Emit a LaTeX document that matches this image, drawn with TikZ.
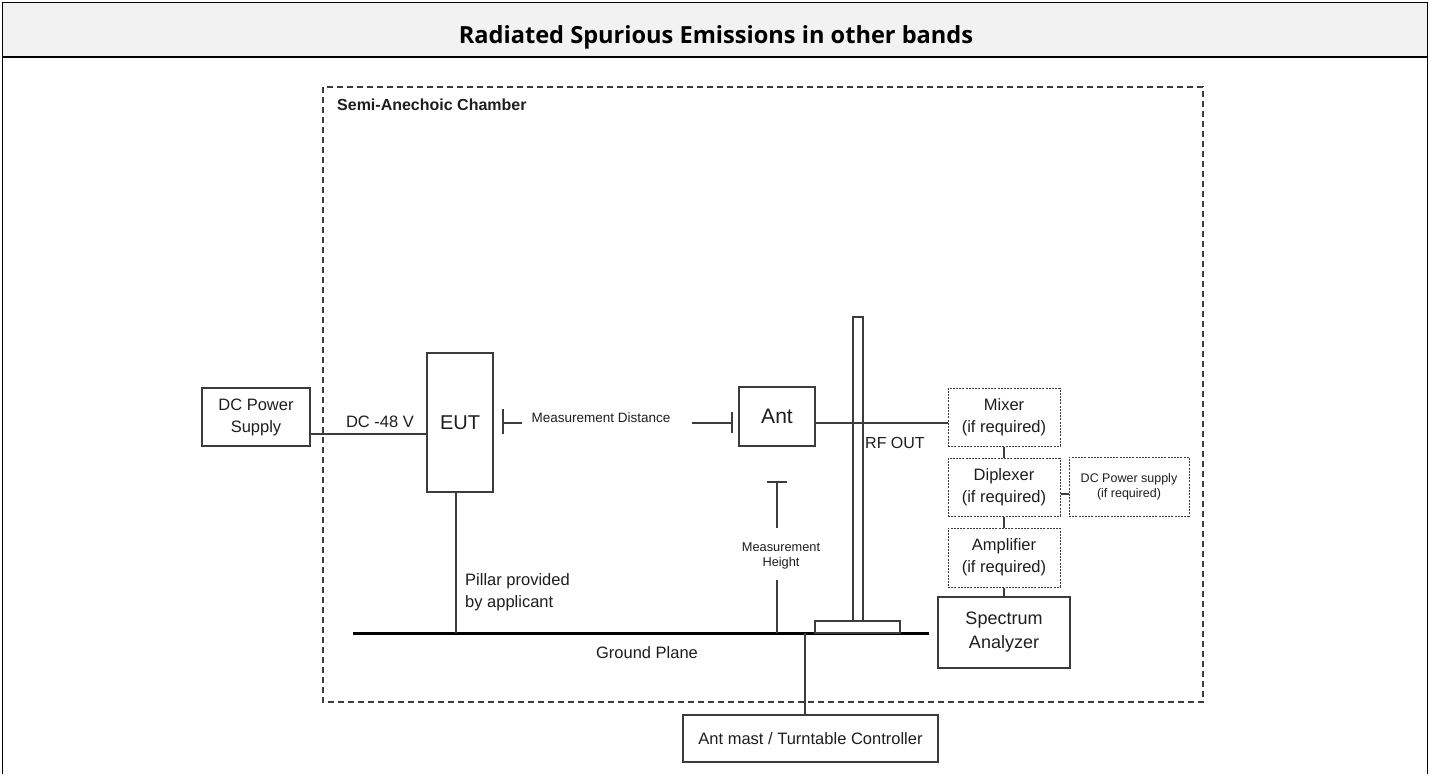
\documentclass[tikz,border=0pt]{standalone}
\usepackage{fontspec}
\setmainfont{Liberation Sans}
\newfontfamily\titlefont{Open Sans}
\usetikzlibrary{calc}
\definecolor{lc}{HTML}{3C3C3C}
\definecolor{tc}{HTML}{1E1E1E}
\definecolor{hdr}{HTML}{F2F2F2}
\tikzset{
  ln/.style={draw=lc, line width=1.2pt},
  solidbox/.style={ln, rectangle, align=center, inner sep=0pt, text=tc},
  optbox/.style={draw=lc, line width=1pt, dash pattern=on 2pt off 1.2pt, rectangle, align=center, inner sep=0pt, text=tc},
  lbl/.style={text=tc, inner sep=0pt, align=center},
  fs/.style={font=\fontsize{16.5}{22}\selectfont},
}
\begin{document}
\begin{tikzpicture}[x=1pt,y=-1pt]
\useasboundingbox (0,0) rectangle (1430,774);
\fill[white] (0,0) rectangle (1430,774);
% table frame
\filldraw[fill=hdr, draw=black, line width=1.3pt] (2.5,2.5) rectangle (1427.5,57);
\draw[black, line width=1.3pt] (2.5,57) -- (2.5,774);
\draw[black, line width=1.3pt] (1427.5,57) -- (1427.5,774);
\node[lbl, anchor=base, font=\titlefont\bfseries\fontsize{23.6}{28}\selectfont, text=black] (title) at (716,43) {Radiated Spurious Emissions in other bands};

% chamber
\draw[draw=lc, line width=1.1pt, dash pattern=on 6pt off 4pt] (323,87) rectangle (1203,702);
\node[lbl, anchor=west, font=\bfseries\fontsize{16}{20}\selectfont] (chlbl) at (337,105) {Semi-Anechoic Chamber};

% boxes
\node[solidbox, fs, minimum width=108pt, minimum height=58pt] (dcps) at (256,417) {DC Power\\Supply};
\node[solidbox, font=\fontsize{20}{24}\selectfont, minimum width=66pt, minimum height=139pt] (eut) at (460,422.5) {EUT};
\node[solidbox, font=\fontsize{21}{24}\selectfont, minimum width=76pt, minimum height=59pt] (ant) at (777,416.5) {Ant};
\node[optbox, fs, minimum width=112pt, minimum height=58pt] (mixer) at (1004,417) {Mixer\\(if required)};
\node[optbox, fs, minimum width=112pt, minimum height=58pt] (dipl) at (1004,487) {Diplexer\\(if required)};
\node[optbox, fs, minimum width=112pt, minimum height=59pt] (amp) at (1004,557.5) {Amplifier\\(if required)};
\node[solidbox, font=\fontsize{18}{24}\selectfont, minimum width=132pt, minimum height=71pt] (sa) at (1004,632.5) {Spectrum\\Analyzer};
\node[optbox, font=\fontsize{12.5}{15}\selectfont, minimum width=120pt, minimum height=59pt] (dcps2) at (1129,486.5) {DC Power supply\\(if required)};
\node[solidbox, fs, minimum width=255pt, minimum height=47pt] (ctrl) at (810.5,738.5) {Ant mast / Turntable Controller};

% DC line
\draw[ln] (dcps.east |- 0,434) -- (eut.west |- 0,434);
\node[lbl, fs] (dclbl) at (380,422) {DC -48 V};

% ground plane
\coordinate (gl) at (353,633);
\coordinate (gr) at (929,633);
\draw[draw=black, line width=3pt] (gl) -- (gr);
\node[lbl, fs] (gplbl) at (647,653) {Ground Plane};

% pillar
\coordinate (pillbot) at (456,633);
\draw[ln] (eut.south -| pillbot) -- (pillbot);
\node[lbl, fs, anchor=north west, align=left] (pilllbl) at (465,573) {Pillar provided\\by applicant};

% measurement distance
\coordinate (mdl) at (503,423);
\coordinate (mdr) at (732,423);
\draw[ln] ($(mdl)+(0,-14)$) -- ($(mdl)+(0,11)$);
\draw[ln] (mdl) -- ($(mdl)+(19,0)$);
\node[lbl, font=\fontsize{13.5}{16}\selectfont] (mdlbl) at (601,418) {Measurement Distance};
\draw[ln] ($(mdr)+(-40,0)$) -- (mdr);
\draw[ln] ($(mdr)+(0,-11)$) -- ($(mdr)+(0,10)$);

% mast
\draw[ln] (853,317) rectangle (863,621);
\node[ln, rectangle, minimum width=85pt, minimum height=12pt, inner sep=0pt] (base) at (857.5,627) {};
\node[lbl, font=\fontsize{16}{20}\selectfont, anchor=west] (rflbl) at (865,443) {RF OUT};

% antenna to mixer
\draw[ln] (ant.east |- 0,423) -- (mixer.west |- 0,423);

% measurement height
\coordinate (mht) at (777,482);
\coordinate (mhb) at (777,633);
\draw[ln] ($(mht)+(-10,0)$) -- ($(mht)+(10,0)$);
\draw[ln] (mht) -- ($(mht)+(0,46)$);
\node[lbl, font=\fontsize{12.8}{15.5}\selectfont] (mhlbl) at (781,556) {Measurement\\Height};
\draw[ln] ($(mhb)+(0,-53)$) -- (mhb);

% chain
\draw[ln] (mixer.south) -- (dipl.north);
\draw[ln] (dipl.south) -- (amp.north);
\draw[ln] (amp.south) -- (sa.north);
\draw[ln] (dipl.east |- 0,494) -- (dcps2.west |- 0,494);

% controller
\coordinate (ctop) at (805,633);
\draw[ln] (ctop) -- (ctrl.north -| ctop);
\end{tikzpicture}
\end{document}
